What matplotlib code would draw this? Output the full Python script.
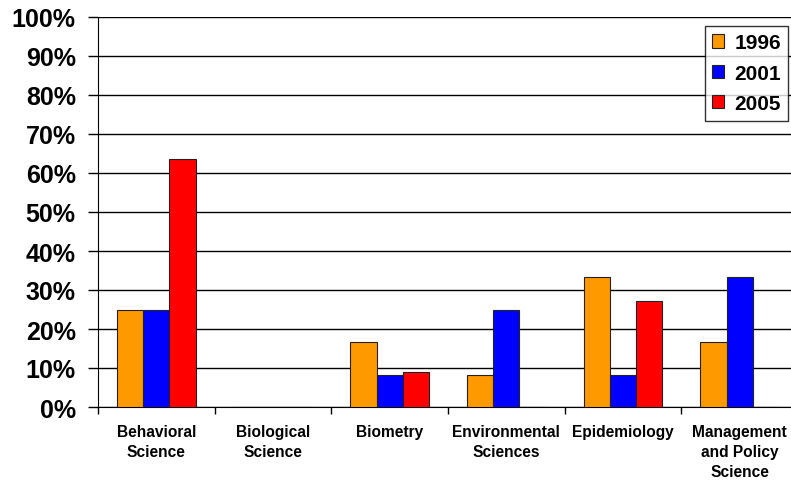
import matplotlib.pyplot as plt
import numpy as np

categories = ["Behavioral\nScience", "Biological\nScience", "Biometry",
              "Environmental\nSciences", "Epidemiology",
              "Management\nand Policy\nScience"]
years = ["1996", "2001", "2005"]
v1996 = [25.0, 0.0, 16.7, 8.3, 33.3, 16.7]
v2001 = [25.0, 0.0, 8.3, 25.0, 8.3, 33.3]
v2005 = [63.6, 0.0, 9.1, 0.0, 27.3, 0.0]
colors = ["#FF9900", "#0000FF", "#FF0000"]

plt.rcParams['font.family'] = ['Liberation Sans', 'DejaVu Sans']
plt.rcParams['font.weight'] = 'bold'

fig = plt.figure(figsize=(7.91, 4.81), dpi=100)
# plot area runs past the right edge of the picture, as in the original
ax = fig.add_axes([98 / 791, 1 - 408 / 481, 700 / 791, 390 / 481])

x = np.arange(len(categories))
w = 0.225
for i, vals in enumerate([v1996, v2001, v2005]):
    ax.bar(x + (i - 1) * w, vals, w, color=colors[i], edgecolor="#222222",
           linewidth=0.8, label=years[i], zorder=3)

ax.set_xlim(-0.5, len(categories) - 0.5)
ax.set_ylim(0, 100)
ax.set_yticks(np.arange(0, 101, 10))
ax.set_yticklabels([f"{t}%" for t in range(0, 101, 10)], fontsize=18,
                   fontweight="bold")
ax.yaxis.grid(True, color="black", linewidth=1.0, zorder=0)

ax.set_xticks(x)
ax.set_xticklabels(categories, fontsize=11.2, fontweight="bold",
                   linespacing=1.42)
ax.set_xticks(np.arange(-0.5, len(categories)), minor=True)
ax.tick_params(axis="x", which="major", length=0, pad=12)
ax.tick_params(axis="x", which="minor", length=5, width=1, direction="out")
ax.tick_params(axis="y", length=7, width=1, direction="out", pad=9)

for s in ["top", "right"]:
    ax.spines[s].set_visible(False)
ax.spines["left"].set_color("black")
ax.spines["bottom"].set_color("black")

leg = ax.legend(loc="upper left", bbox_to_anchor=(705 / 791, 1 - 27 / 481),
                bbox_transform=fig.transFigure, fontsize=15, frameon=True,
                fancybox=False, edgecolor="black", handlelength=0.55,
                handleheight=0.6, handletextpad=0.5, borderpad=0.35,
                labelspacing=0.55, borderaxespad=0)
leg.get_frame().set_linewidth(1.0)
for t in leg.get_texts():
    t.set_fontweight("bold")

fig.savefig("out.png", dpi=100)
